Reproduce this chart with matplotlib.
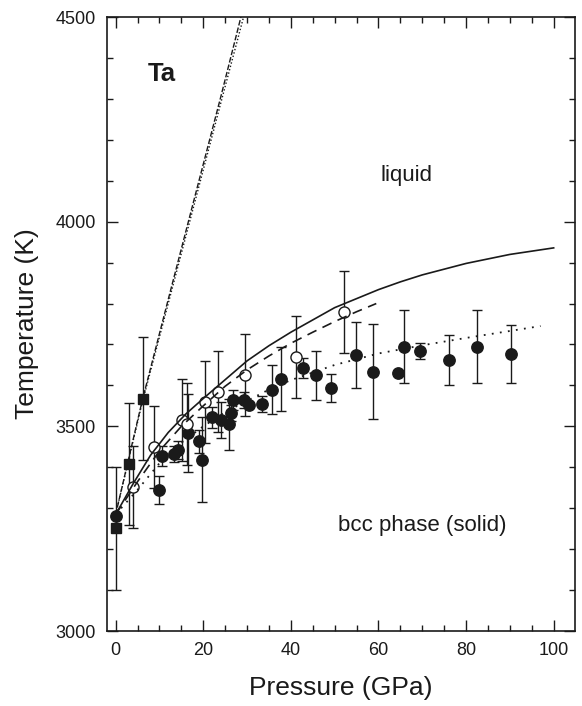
import matplotlib
matplotlib.use("Agg")
import matplotlib.pyplot as plt
from matplotlib.ticker import MultipleLocator

plt.rcParams['font.family'] = ['Liberation Sans', 'DejaVu Sans']

# ---- data ----
# filled circles (pressure GPa, temperature K, error K)
fc_p = [0.0, 10.0, 10.6, 13.3, 14.3, 16.6, 19.0, 19.8, 21.9, 24.0, 25.9, 26.3, 26.9,
        29.4, 30.4, 33.4, 35.6, 37.7, 42.7, 45.7, 49.1, 54.9, 58.8, 64.5, 65.8,
        69.5, 76.1, 82.6, 90.3]
fc_t = [3281, 3344, 3428, 3432, 3442, 3483, 3463, 3418, 3522, 3515, 3505, 3532, 3564,
        3564, 3552, 3555, 3590, 3616, 3642, 3625, 3594, 3674, 3634, 3630, 3695,
        3684, 3662, 3695, 3677]
fc_e = [0, 34, 24, 20, 22, 95, 28, 104, 25, 44, 63, 20, 25,
        20, 0, 19, 59, 79, 25, 60, 34, 80, 115, 0, 90,
        20, 60, 90, 70]

# open circles
oc_p = [4.0, 8.8, 15.2, 16.3, 20.4, 23.4, 29.5, 41.2, 52.1]
oc_t = [3351, 3450, 3516, 3506, 3560, 3585, 3626, 3670, 3779]
oc_e = [100, 100, 100, 100, 100, 100, 100, 100, 100]

# filled squares
sq_p = [0.0, 3.0, 6.2]
sq_t = [3251, 3408, 3568]
sq_e = [150, 150, 150]

# solid curve
sol_p = [0, 4, 8, 12, 16, 20, 25, 30, 35, 40, 45, 50, 55, 60, 65, 70, 80, 90, 100]
sol_t = [3285, 3360, 3430, 3485, 3530, 3568, 3614, 3660, 3697, 3730, 3760, 3790,
         3812, 3834, 3853, 3870, 3898, 3920, 3936]

# dashed curve
das_p = [0, 5, 10, 15, 20, 25, 30, 35, 40, 45, 50, 55, 59.5]
das_t = [3285, 3365, 3440, 3500, 3550, 3598, 3638, 3672, 3703, 3730, 3756, 3780, 3800]

# dotted curve
dot_p = [0, 5, 10, 15, 20, 25, 30, 35, 40, 50, 60, 70, 80, 90, 97]
dot_t = [3285, 3345, 3410, 3460, 3500, 3535, 3562, 3590, 3613, 3650, 3678, 3698,
         3716, 3733, 3745]

# steep curves
stA_p = [0, 6, 12, 18, 24, 28.6]
stA_t = [3285, 3560, 3810, 4058, 4305, 4500]
stB_p = [0, 6, 12, 18, 24, 29.2]
stB_t = [3285, 3555, 3800, 4045, 4290, 4500]

x_ticks = [0, 20, 40, 60, 80, 100]
y_ticks = [3000, 3500, 4000, 4500]

# ---- figure ----
fig = plt.figure(figsize=(5.82, 7.06), dpi=100)
ax = fig.add_axes([0.1833, 0.1062, 0.8046, 0.8697])

ebkw = dict(ecolor='#1a1a1a', elinewidth=1.0, capsize=3.5, capthick=1.0, linestyle='none')

ax.errorbar(sq_p, sq_t, yerr=sq_e, fmt='s', ms=6.8, mfc='#1a1a1a', mec='#1a1a1a', zorder=3, **ebkw)
ax.errorbar(fc_p, fc_t, yerr=fc_e, fmt='o', ms=8.2, mfc='#1a1a1a', mec='#1a1a1a', zorder=3, **ebkw)
ax.errorbar(oc_p, oc_t, yerr=oc_e, fmt='o', ms=8.0, mfc='white', mec='#1a1a1a', mew=1.0, zorder=3, **ebkw)

ax.plot(sol_p, sol_t, '-', color='#1a1a1a', lw=1.2, zorder=4)
ax.plot(das_p, das_t, color='#1a1a1a', lw=1.2, dashes=(6, 4), zorder=4)
ax.plot(dot_p, dot_t, color='#1a1a1a', lw=1.3, dashes=(1, 3.5), zorder=4)
ax.plot(stA_p, stA_t, color='#1a1a1a', lw=1.0, dashes=(4, 1.5), zorder=4)
ax.plot(stB_p, stB_t, color='#1a1a1a', lw=1.0, dashes=(1, 1.5), zorder=4)

ax.set_xlim(-2.05, 104.86)
ax.set_ylim(3000, 4500)
ax.set_xticks(x_ticks)
ax.set_yticks(y_ticks)
ax.xaxis.set_minor_locator(MultipleLocator(5))
ax.yaxis.set_minor_locator(MultipleLocator(100))
ax.tick_params(which='both', direction='in', top=True, right=True, width=1.0,
               labelsize=13, colors='#1a1a1a')
ax.tick_params(which='major', length=8, pad=8)
ax.tick_params(which='minor', length=4.5)
for s in ax.spines.values():
    s.set_linewidth(1.2)
    s.set_color('#1a1a1a')

ax.set_xlabel('Pressure (GPa)', fontsize=19, labelpad=12, color='#1a1a1a')
ax.set_ylabel('Temperature (K)', fontsize=19, labelpad=12, color='#1a1a1a')

ax.text(10.5, 4362, 'Ta', fontsize=18.5, fontweight='bold', ha='center', va='center', color='#1a1a1a')
ax.text(66.4, 4112, 'liquid', fontsize=16, ha='center', va='center', color='#1a1a1a')
ax.text(70.0, 3258, 'bcc phase (solid)', fontsize=16, ha='center', va='center', color='#1a1a1a')

fig.savefig('out.png', dpi=100)
